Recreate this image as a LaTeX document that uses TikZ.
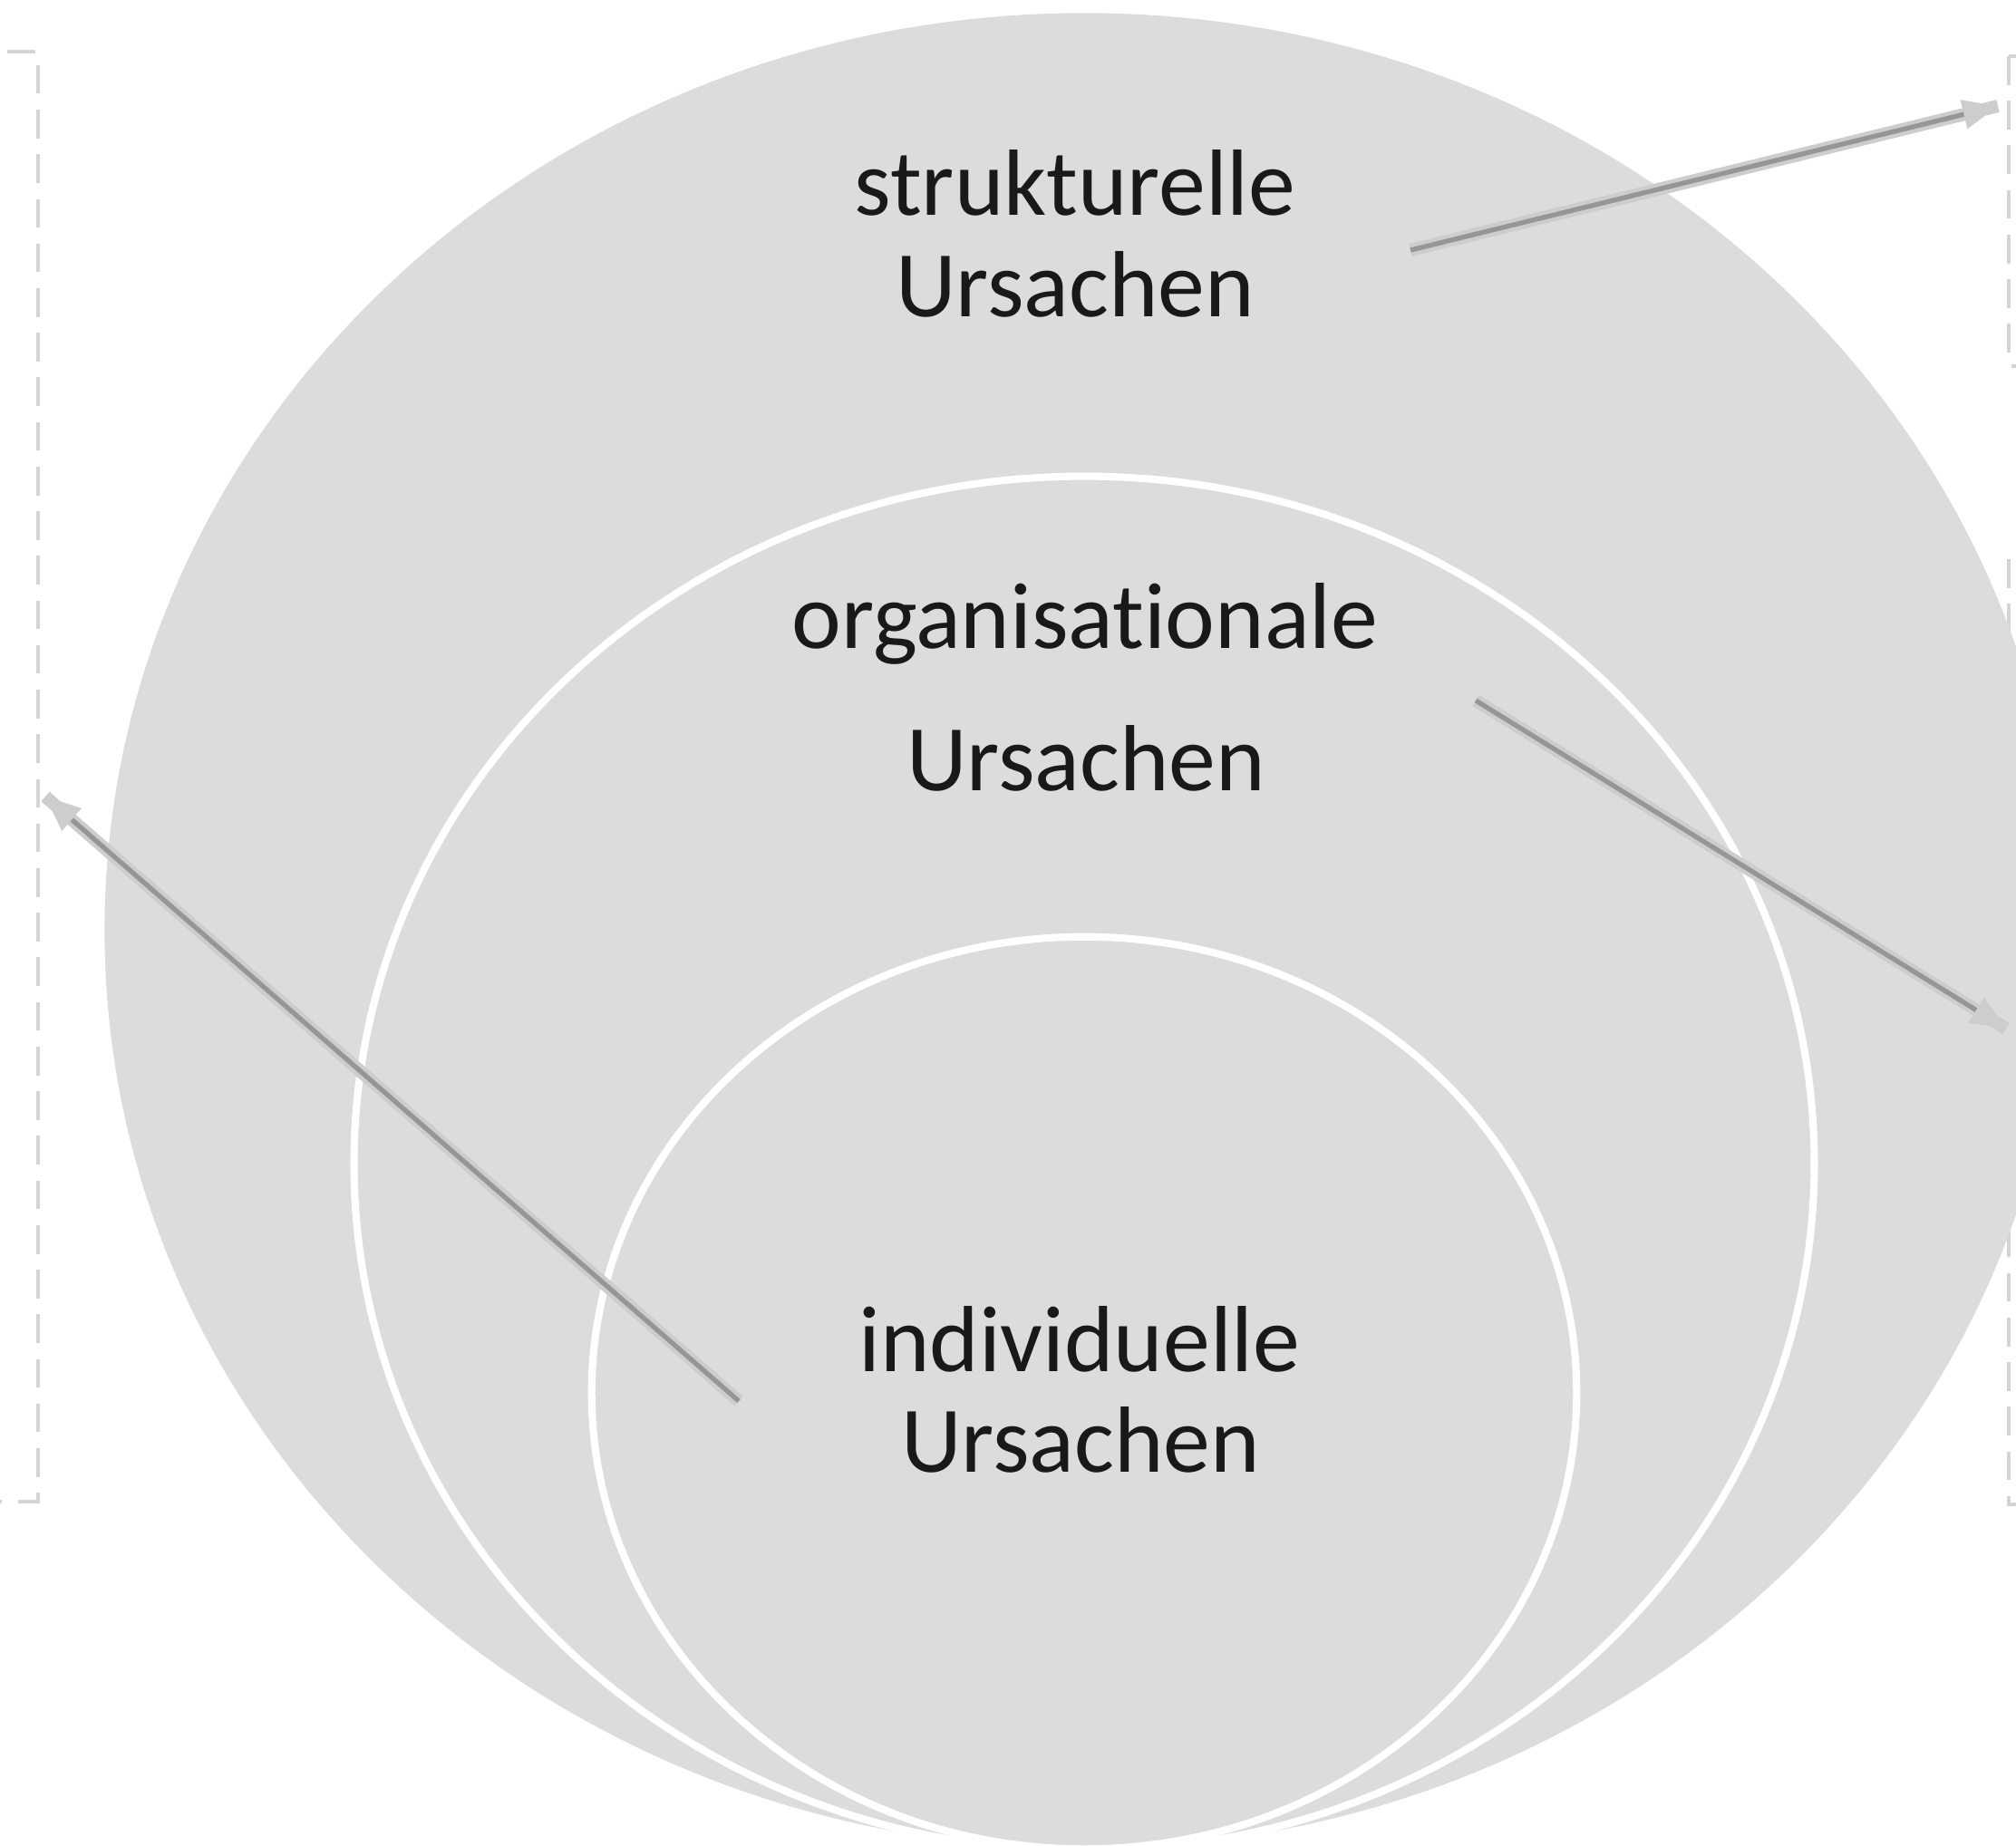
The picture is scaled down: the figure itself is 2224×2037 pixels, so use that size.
\documentclass[tikz,border=0pt]{standalone}
\usepackage{fontspec}
\setmainfont[Ligatures=NoCommon]{Carlito}
\usetikzlibrary{calc}
\usetikzlibrary{arrows.meta}
\definecolor{ringgray}{RGB}{220,220,220}
\definecolor{dashgray}{RGB}{212,212,212}
\definecolor{arrowgray}{RGB}{150,150,150}
\definecolor{headgray}{RGB}{205,205,205}

\begin{document}
\begin{tikzpicture}[x=0.01cm,y=-0.01cm,inner sep=0pt,
  lbl/.style={anchor=base,text=black!90,font=\fontsize{29.5}{35}\selectfont},
  ring/.style={draw=white,line width=2.3pt,fill=ringgray},
  box/.style={draw=dashgray,line width=1.3pt,dash pattern=on 9pt off 5pt},
  flow/.style={draw=arrowgray,line width=1.5pt,
    -{Triangle[length=11pt,width=9pt,color=headgray,fill=headgray]},
    preaction={draw=headgray,line width=4pt,-}}]
\clip (0,0) rectangle (2224,2037);
% dashed frames at the sides
\draw[box] (-300,57) rectangle (42,1657);
\draw[box] (2216,62) rectangle (2600,404);
\draw[box] (2216,617) rectangle (2600,1660);
% nested rings, touching at the bottom
\fill[ringgray] (1196,1027) ellipse [x radius=10.80cm, y radius=10.12cm];
\filldraw[ring] (1196,1284) ellipse [x radius=8.05cm, y radius=7.58cm];
\filldraw[ring] (1196,1537) ellipse [x radius=5.43cm, y radius=5.03cm];

\node[lbl] (s1) at (1186,238) {strukturelle};
\node[lbl] (s2) at (1186,350) {Ursachen};
\node[lbl] (o1) at (1197,716) {organisationale};
\node[lbl] (o2) at (1198,872) {Ursachen};
\node[lbl] (i1) at (1191,1513) {individuelle};
\node[lbl] (i2) at (1192,1624) {Ursachen};

\coordinate (a1) at (1556,276);
\coordinate (b1) at (2204,117);
\coordinate (a2) at (1628,773);
\coordinate (b2) at (2213,1135);
\coordinate (a3) at (815,1546);
\coordinate (b3) at (50,879);
\draw[flow] (a1) -- (b1);
\draw[flow] (a2) -- (b2);
\draw[flow] (a3) -- (b3);
\end{tikzpicture}
\end{document}
